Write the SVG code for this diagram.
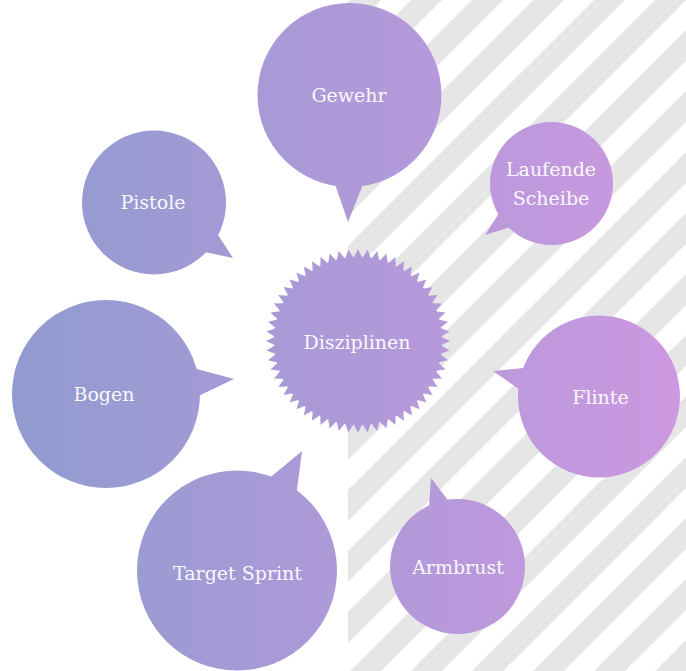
<svg xmlns="http://www.w3.org/2000/svg" width="686" height="671" viewBox="0 0 686 671">
<style>
.bub{fill:url(#grad)}
.lbl{font-family:"DejaVu Serif","Liberation Serif",serif;font-size:19px;fill:#fbf8fd;text-anchor:middle}
.stripe{stroke:#e6e6e6;stroke-width:21.9;fill:none}
</style>
<defs>
<linearGradient id="grad" gradientUnits="userSpaceOnUse" x1="0" y1="0" x2="686" y2="0">
<stop offset="0" stop-color="#8f9bcf"/>
<stop offset="1" stop-color="#cd98e1"/>
</linearGradient>
<clipPath id="stripeClip"><rect x="348" y="0" width="338" height="671"/></clipPath>
<polygon id="tooth" points="0,0 -4.344,-82.886 0,-92 4.344,-82.886" fill="#fff"/>
<g id="t5">
<use href="#tooth"/>
<use href="#tooth" transform="rotate(6)"/>
<use href="#tooth" transform="rotate(12)"/>
<use href="#tooth" transform="rotate(18)"/>
<use href="#tooth" transform="rotate(24)"/>
</g>
<mask id="burst" maskUnits="userSpaceOnUse" x="0" y="0" width="686" height="671">
<g transform="translate(358 341)">
<circle cx="0" cy="0" r="84" fill="#fff"/>
<use href="#t5"/>
<use href="#t5" transform="rotate(30)"/>
<use href="#t5" transform="rotate(60)"/>
<use href="#t5" transform="rotate(90)"/>
<use href="#t5" transform="rotate(120)"/>
<use href="#t5" transform="rotate(150)"/>
<use href="#t5" transform="rotate(180)"/>
<use href="#t5" transform="rotate(210)"/>
<use href="#t5" transform="rotate(240)"/>
<use href="#t5" transform="rotate(270)"/>
<use href="#t5" transform="rotate(300)"/>
<use href="#t5" transform="rotate(330)"/>
</g>
</mask>
</defs>
<rect x="0" y="0" width="686" height="671" fill="#ffffff"/>
<g id="background-stripes" clip-path="url(#stripeClip)">
<path class="stripe" d="M385.5,-20 L-334.5,700 M446.5,-20 L-273.5,700 M507.5,-20 L-212.5,700 M568.5,-20 L-151.5,700 M629.5,-20 L-90.5,700 M690.5,-20 L-29.5,700 M751.5,-20 L31.5,700 M812.5,-20 L92.5,700 M873.5,-20 L153.5,700 M934.5,-20 L214.5,700 M995.5,-20 L275.5,700 M1056.5,-20 L336.5,700 M1117.5,-20 L397.5,700 M1178.5,-20 L458.5,700 M1239.5,-20 L519.5,700 M1300.5,-20 L580.5,700 M1361.5,-20 L641.5,700 M1422.5,-20 L702.5,700"/>
</g>
<g id="connectors"></g>
<g id="gewehr">
<circle class="bub" cx="349.5" cy="95" r="92"/>
<polygon class="bub" points="333.6,180 348,222 364.8,180"/>
<text class="lbl" x="349" y="102">Gewehr</text>
</g>
<g id="laufende-scheibe">
<circle class="bub" cx="551.5" cy="183.5" r="61.5"/>
<polygon class="bub" points="485,235 503,207 520,224"/>
<text class="lbl" x="551" y="176">Laufende</text>
<text class="lbl" x="551" y="205">Scheibe</text>
</g>
<g id="pistole">
<circle class="bub" cx="154" cy="202.5" r="72"/>
<polygon class="bub" points="233,258 211,224 195,250"/>
<text class="lbl" x="153" y="209">Pistole</text>
</g>
<g id="bogen">
<circle class="bub" cx="106" cy="394" r="94"/>
<polygon class="bub" points="234,379 186,366 190,400"/>
<text class="lbl" x="104" y="401">Bogen</text>
</g>
<g id="target-sprint">
<circle class="bub" cx="237" cy="570.5" r="100"/>
<polygon class="bub" points="302,451 266,481 295.7,500"/>
<text class="lbl" x="237.5" y="580">Target Sprint</text>
</g>
<g id="flinte">
<circle class="bub" cx="599" cy="396.5" r="81"/>
<polygon class="bub" points="493,371 534,367 529,396"/>
<text class="lbl" x="600.5" y="404">Flinte</text>
</g>
<g id="armbrust">
<circle class="bub" cx="457.5" cy="566.5" r="67.5"/>
<polygon class="bub" points="431,478 428.6,512 452,505.5"/>
<text class="lbl" x="458" y="574">Armbrust</text>
</g>
<g id="disziplinen">
<rect class="bub" x="260" y="243" width="196" height="196" mask="url(#burst)"/>
<text class="lbl" x="357" y="349">Disziplinen</text>
</g>
</svg>
